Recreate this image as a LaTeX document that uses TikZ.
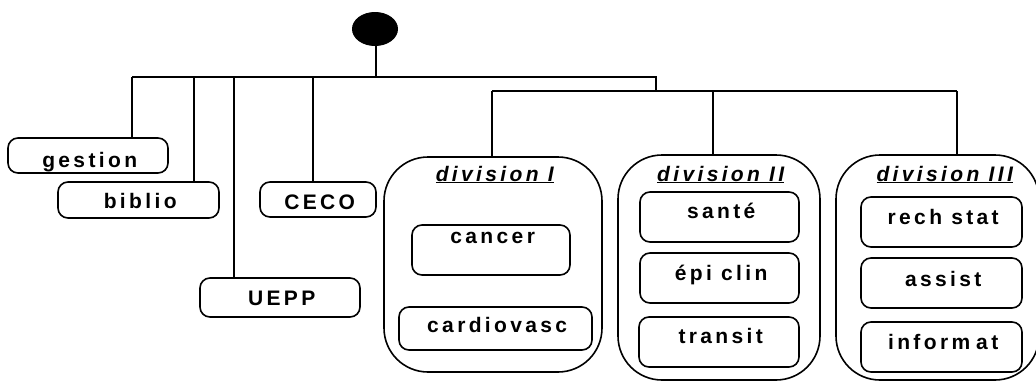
\documentclass[tikz,border=0pt]{standalone}
\usepackage{fontspec}
\setmainfont{Liberation Sans}
\newfontfamily\lblfont{Liberation Sans}[LetterSpace=16]
\usetikzlibrary{shapes.geometric}
\tikzset{
  ln/.style={line width=1.6pt},
  sbox/.style={draw, line width=1.6pt, rounded corners=10pt, inner sep=0pt},
  dbox/.style={draw, line width=1.6pt, rounded corners=44pt, inner sep=0pt},
  txt/.style={anchor=base, inner sep=0pt, xshift=1.7pt, font=\lblfont\bfseries\fontsize{21}{25}\selectfont},
  ttl/.style={anchor=base, inner sep=0pt, xshift=1.7pt, font=\lblfont\bfseries\itshape\fontsize{21}{25}\selectfont},
}
\begin{document}
\begin{tikzpicture}[x=1pt,y=-1pt]
\useasboundingbox (0,0) rectangle (1036,381);
% root
\node[ellipse, fill=black, draw, line width=1pt, minimum width=45pt, minimum height=33pt, inner sep=0pt] (root) at (375,29) {};
% boxes
\node[sbox, minimum width=160pt, minimum height=35pt] (gestion) at (88,155.5) {};
\node[sbox, minimum width=161pt, minimum height=36pt] (biblio) at (138.5,200) {};
\node[sbox, minimum width=116pt, minimum height=35pt] (ceco) at (318,199.5) {};
\node[sbox, minimum width=160pt, minimum height=39pt] (uepp) at (280,297.5) {};
\node[dbox, minimum width=218pt, minimum height=215pt] (div1) at (493,264.5) {};
\node[sbox, minimum width=158pt, minimum height=50pt] (cancer) at (491,250) {};
\node[sbox, minimum width=193pt, minimum height=43pt] (cardio) at (495.5,328.5) {};
\node[dbox, minimum width=202pt, minimum height=225pt] (div2) at (719,267.5) {};
\node[sbox, minimum width=159pt, minimum height=50pt] (sante) at (719.5,217) {};
\node[sbox, minimum width=159pt, minimum height=50pt] (epi) at (719.5,278) {};
\node[sbox, minimum width=160pt, minimum height=50pt] (transit) at (719,342) {};
\node[dbox, minimum width=203pt, minimum height=225pt] (div3) at (937.5,267.5) {};
\node[sbox, minimum width=161pt, minimum height=50pt] (rech) at (941.5,222) {};
\node[sbox, minimum width=161pt, minimum height=50pt] (assist) at (941.5,283) {};
\node[sbox, minimum width=161pt, minimum height=50pt] (inform) at (941.5,347) {};
% labels
\node[txt] (gestion-t) at (88,167) {gestion};
\node[txt] (biblio-t) at (138.5,208) {biblio};
\node[txt] (ceco-t) at (318,209) {CECO};
\node[txt] (uepp-t) at (280,305) {UEPP};
\node[txt] (cancer-t) at (491,243) {cancer};
\node[txt] (cardio-t) at (495.5,332) {cardiovasc};
\node[txt] (sante-t) at (719.5,218) {santé};
\node[txt] (epi-t) at (719.5,280) {épi clin};
\node[txt] (transit-t) at (719,343) {transit};
\node[txt] (rech-t) at (941.5,224) {rech stat};
\node[txt] (assist-t) at (941.5,286) {assist};
\node[txt] (inform-t) at (941.5,349) {inform\kern6pt at};
\node[ttl] (div1-t) at (493,181) {\underline{division I}};
\node[ttl] (div2-t) at (719,181) {\underline{division II}};
\node[ttl] (div3-t) at (943,181) {\underline{division III}};
% bars
\coordinate (stem) at (376,77);
\coordinate (barL) at (132,77);
\coordinate (barR) at (656,77);
\coordinate (bar2J) at (656,91);
\coordinate (bar2L) at (492,91);
\coordinate (bar2R) at (957,91);
\coordinate (tB) at (194,77);
\coordinate (tU) at (234,77);
\coordinate (tC) at (313,77);
\coordinate (tD2) at (713,91);
\draw[ln] (root.south -| stem) -- (stem);
\draw[ln] (barL) -- (barR) -- (bar2J);
\draw[ln] (bar2L) -- (bar2R);
\draw[ln] (barL) -- (barL |- gestion.north);
\draw[ln] (tB) -- (tB |- biblio.north);
\draw[ln] (tU) -- (tU |- uepp.north);
\draw[ln] (tC) -- (tC |- ceco.north);
\draw[ln] (bar2L) -- (bar2L |- div1.north);
\draw[ln] (tD2) -- (tD2 |- div2.north);
\draw[ln] (bar2R) -- (bar2R |- div3.north);
\end{tikzpicture}
\end{document}
